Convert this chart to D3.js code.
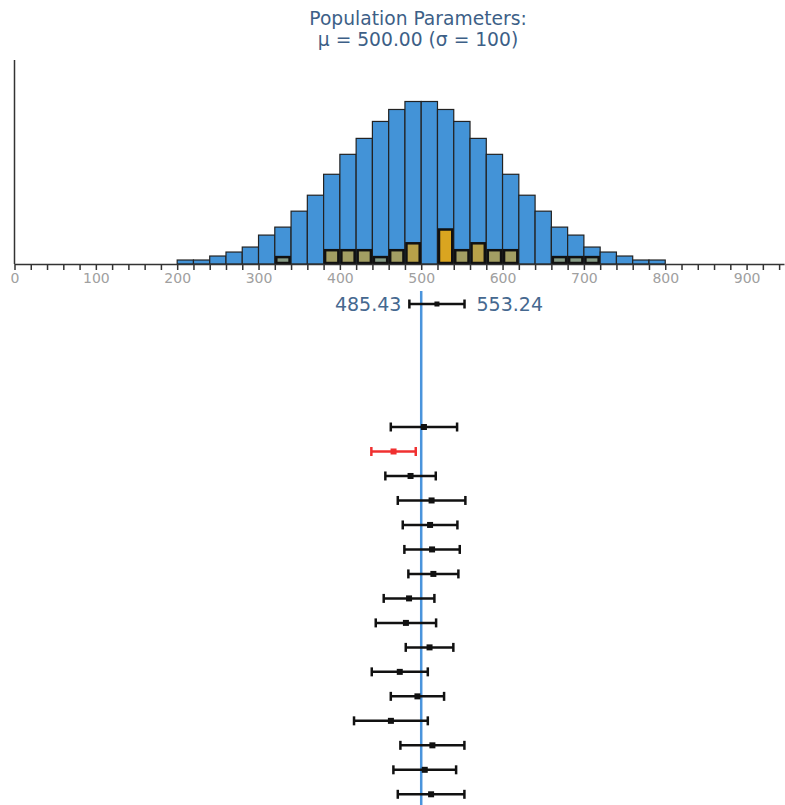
<!DOCTYPE html>
<html>
<head>
<meta charset="utf-8">
<script src="https://cdn.jsdelivr.net/npm/d3@7"></script>
<style>
body { margin: 0; background: #fff; }
text { font-family: "DejaVu Sans", Verdana, sans-serif; }
</style>
</head>
<body>
<div id="chart-area"></div>
<script>
// population distribution (bins of width 20, from 200 to 800)
var binStarts = d3.range(200, 800, 20);
var popFreq = [4, 4, 8, 12, 17, 29, 37, 53, 69, 90, 110, 126, 143, 155, 163,
               163, 155, 143, 126, 110, 90, 69, 53, 37, 29, 17, 12, 8, 4, 4];

// current sample histogram (bin start -> count)
var sampleBins = [320, 380, 400, 420, 440, 460, 480, 520, 540, 560, 580, 600, 660, 680, 700];
var sampleCounts = [1, 2, 2, 2, 1, 2, 3, 5, 2, 3, 2, 2, 1, 1, 1];

var mu = 500;
var currentCI = [485.43, 553.24];

// earlier confidence intervals
var ciLow  = [462.6, 438.7, 455.9, 471.2, 477.3, 479.3, 484.2, 453.9, 444.1, 481.0, 439.2, 462.6, 417.4, 474.4, 465.8, 471.2];
var ciHigh = [544.1, 493.3, 517.9, 554.3, 544.5, 547.4, 545.7, 516.2, 518.3, 539.5, 508.1, 528.1, 508.1, 553.1, 542.9, 553.1];

var tickVals = d3.range(0, 941, 20);

var width = 785, height = 805;
var svg = d3.select("#chart-area").append("svg")
    .attr("width", width)
    .attr("height", height);

var x = d3.scaleLinear().domain([0, 946]).range([14.5, 784]);
var baseY = 264;
var yPop = d3.scaleLinear().domain([0, 163]).range([baseY, 101.5]);
var ySample = d3.scaleLinear().domain([0, 5]).range([baseY, 229.5]);
var alpha = d3.scaleSqrt().domain([0, d3.max(sampleCounts)]).range([0, 1]);

// title
var title = svg.append("text")
    .attr("x", 418)
    .attr("y", 25)
    .attr("text-anchor", "middle")
    .attr("font-size", "18.7px")
    .attr("fill", "#3d5f87");
title.append("tspan").attr("x", 418).text("Population Parameters:");
title.append("tspan").attr("x", 418).attr("dy", 21)
    .text("μ = " + mu.toFixed(2) + " (σ = 100)");

// population bars
svg.selectAll("rect.pop")
    .data(popFreq)
    .enter()
    .append("rect")
    .attr("class", "pop")
    .attr("x", (d, i) => x(binStarts[i]))
    .attr("y", (d) => yPop(d))
    .attr("width", (d, i) => x(binStarts[i] + 20) - x(binStarts[i]))
    .attr("height", (d) => baseY - yPop(d))
    .attr("fill", "#4393d7")
    .attr("stroke", "#222")
    .attr("stroke-width", 1.2);

// sample bars
svg.selectAll("rect.samp")
    .data(sampleCounts)
    .enter()
    .append("rect")
    .attr("class", "samp")
    .attr("x", (d, i) => x(sampleBins[i]) + 1.5)
    .attr("y", (d) => ySample(d))
    .attr("width", (d, i) => x(sampleBins[i] + 20) - x(sampleBins[i]) - 3)
    .attr("height", (d) => baseY - ySample(d) - 1)
    .attr("fill", "#daa520")
    .attr("fill-opacity", (d) => alpha(d))
    .attr("stroke", "#111")
    .attr("stroke-width", 2.5);

// x axis
var bottomAxis = d3.axisBottom(x)
    .tickValues(tickVals)
    .tickFormat((d) => d % 100 === 0 ? d : "")
    .tickSize(6)
    .tickSizeOuter(0)
    .tickPadding(3);
var gx = svg.append("g")
    .attr("transform", "translate(0," + baseY + ")")
    .call(bottomAxis);
gx.select(".domain").attr("stroke", "#333").attr("stroke-width", 1.5);
gx.selectAll(".tick line").attr("stroke", "#333").attr("stroke-width", 1.5);
gx.selectAll(".tick text")
    .attr("fill", "#a0a0a0")
    .attr("font-size", "14px")
    .attr("font-family", "DejaVu Sans, sans-serif");

// y axis line
svg.append("line")
    .attr("x1", x(0)).attr("x2", x(0))
    .attr("y1", 60).attr("y2", baseY)
    .attr("stroke", "#333")
    .attr("stroke-width", 1.5);

// population mean line
svg.append("line")
    .attr("x1", x(mu)).attr("x2", x(mu))
    .attr("y1", 291).attr("y2", height)
    .attr("stroke", "#4a94dc")
    .attr("stroke-width", 2.5);

function drawCI(g, lo, hi, yy, color, sq) {
    var mid = (lo + hi) / 2;
    g.append("line")
        .attr("x1", x(lo)).attr("x2", x(hi))
        .attr("y1", yy).attr("y2", yy)
        .attr("stroke", color).attr("stroke-width", 2.5);
    [lo, hi].forEach((v) => {
        g.append("line")
            .attr("x1", x(v)).attr("x2", x(v))
            .attr("y1", yy - 4.5).attr("y2", yy + 4.5)
            .attr("stroke", color).attr("stroke-width", 2.5);
    });
    g.append("rect")
        .attr("x", x(mid) - sq / 2).attr("y", yy - sq / 2)
        .attr("width", sq).attr("height", sq)
        .attr("fill", color);
}

// current interval with labels
var cur = svg.append("g");
drawCI(cur, currentCI[0], currentCI[1], 304, "#111", 5);
cur.append("text")
    .attr("x", x(currentCI[0]) - 8)
    .attr("y", 311)
    .attr("text-anchor", "end")
    .attr("font-size", "19px")
    .attr("fill", "#45688f")
    .text(currentCI[0].toFixed(2));
cur.append("text")
    .attr("x", x(currentCI[1]) + 12)
    .attr("y", 311)
    .attr("text-anchor", "start")
    .attr("font-size", "19px")
    .attr("fill", "#45688f")
    .text(currentCI[1].toFixed(2));

// earlier intervals
var rowY = d3.scalePoint()
    .domain(d3.range(ciLow.length))
    .range([427, 794.3]);
var rows = svg.append("g");
ciLow.forEach((lo, i) => {
    var hi = ciHigh[i];
    var color = (lo <= mu && hi >= mu) ? "#111" : "#f03030";
    drawCI(rows, lo, hi, rowY(i), color, 6);
});
</script>
</body>
</html>
